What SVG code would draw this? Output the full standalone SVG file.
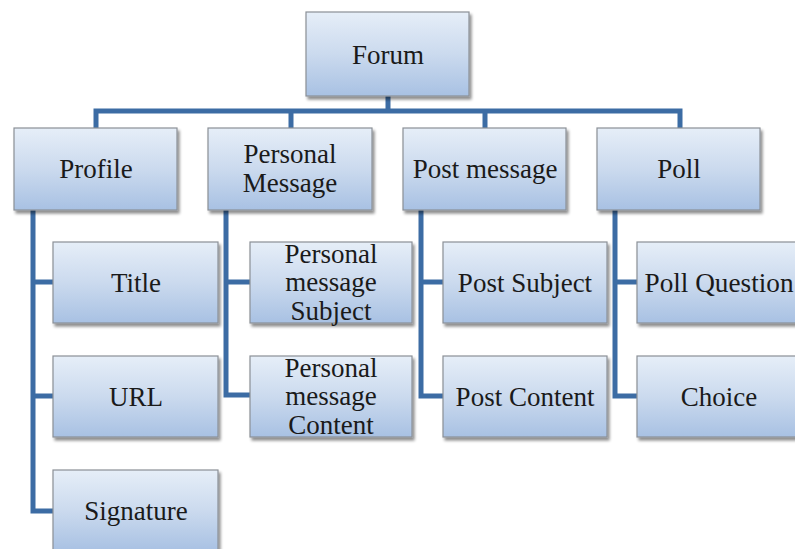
<svg xmlns="http://www.w3.org/2000/svg" width="795" height="549" viewBox="0 0 795 549">
<defs>
<linearGradient id="g" x1="0" y1="0" x2="0" y2="1">
<stop offset="0" stop-color="#e6eef8"/>
<stop offset="0.5" stop-color="#cbdaee"/>
<stop offset="1" stop-color="#a8c1e3"/>
</linearGradient>
<filter id="sh" x="-10%" y="-10%" width="125%" height="130%">
<feGaussianBlur in="SourceAlpha" stdDeviation="1.8"/>
<feOffset dx="2" dy="3" result="b"/>
<feComponentTransfer><feFuncA type="linear" slope="0.45"/></feComponentTransfer>
<feMerge><feMergeNode/><feMergeNode in="SourceGraphic"/></feMerge>
</filter>
</defs>
<style>
.box{fill:url(#g);stroke:#8b9097;stroke-width:1.2;filter:url(#sh)}
.t{font-family:"Liberation Serif","Times New Roman",serif;font-size:27px;fill:#1a1a1a;text-anchor:middle}
.c{fill:none;stroke:#3c6ca4;stroke-width:5;stroke-linejoin:miter}
</style>
<rect width="795" height="549" fill="#ffffff"/>
<g id="connectors">
<path class="c" d="M388,96 V111 M96,128 V111 H680 V128 M291,111 V128 M485,111 V128"/>
<path class="c" d="M53,282 H33 V210 M33,396 H53 M33,282 V511 H53"/>
<path class="c" d="M226,210 V395 H250 M226,282 H250"/>
<path class="c" d="M421,210 V396 H443 M421,282 H443"/>
<path class="c" d="M615,210 V396 H637 M615,282 H637"/>
</g>
<g id="forum"><rect class="box" x="306" y="12" width="163" height="84"/><text class="t" x="388" y="64">Forum</text></g>
<g id="profile"><rect class="box" x="14" y="128" width="163" height="82"/><text class="t" x="96" y="178">Profile</text></g>
<g id="personal-message"><rect class="box" x="208" y="128" width="164" height="82"/><text class="t" x="290" y="163">Personal</text><text class="t" x="290" y="192">Message</text></g>
<g id="post-message"><rect class="box" x="403" y="128" width="163" height="82"/><text class="t" x="485" y="178">Post message</text></g>
<g id="poll"><rect class="box" x="597" y="128" width="163" height="82"/><text class="t" x="679" y="178">Poll</text></g>
<g id="title"><rect class="box" x="53" y="242" width="165" height="81"/><text class="t" x="136" y="292">Title</text></g>
<g id="url"><rect class="box" x="53" y="356" width="165" height="81"/><text class="t" x="136" y="406">URL</text></g>
<g id="signature"><rect class="box" x="53" y="470" width="165" height="81"/><text class="t" x="136" y="520">Signature</text></g>
<g id="pm-subject"><rect class="box" x="250" y="242" width="162" height="81"/><text class="t" x="331" y="263">Personal</text><text class="t" x="331" y="291">message</text><text class="t" x="331" y="320">Subject</text></g>
<g id="pm-content"><rect class="box" x="250" y="356" width="162" height="81"/><text class="t" x="331" y="377">Personal</text><text class="t" x="331" y="405">message</text><text class="t" x="331" y="434">Content</text></g>
<g id="post-subject"><rect class="box" x="443" y="242" width="164" height="81"/><text class="t" x="525" y="292">Post Subject</text></g>
<g id="post-content"><rect class="box" x="443" y="356" width="164" height="81"/><text class="t" x="525" y="406">Post Content</text></g>
<g id="poll-question"><rect class="box" x="637" y="242" width="164" height="81"/><text class="t" x="719" y="292" textLength="149" lengthAdjust="spacingAndGlyphs">Poll Question</text></g>
<g id="choice"><rect class="box" x="637" y="356" width="164" height="81"/><text class="t" x="719" y="406">Choice</text></g>
</svg>
